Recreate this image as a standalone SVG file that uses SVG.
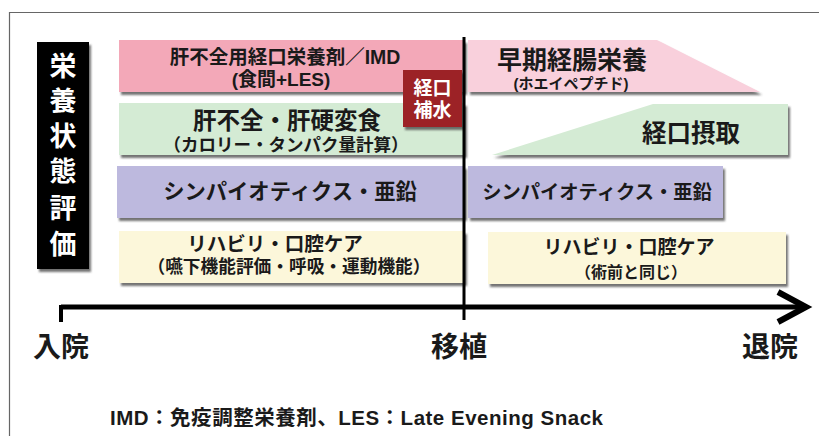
<svg xmlns="http://www.w3.org/2000/svg" width="819" height="436" viewBox="0 0 819 436">
<defs>
<filter id="sh" x="-5%" y="-10%" width="115%" height="130%">
<feDropShadow dx="2" dy="3" stdDeviation="1" flood-color="#444" flood-opacity="0.75"/>
</filter>
<style>
text{font-family:"Liberation Sans","Noto Sans CJK JP",sans-serif;font-weight:700;text-anchor:middle;dominant-baseline:central;fill:#1a1a1a}
.w{fill:#fff}
.pink{fill:#f3a8b8}
.lpink{fill:#f9d0dc}
.green{fill:#d4ebd4}
.purple{fill:#bdb9de}
.yellow{fill:#fcf7da}
.ax{stroke:#000;fill:none}
</style>
</defs>
<rect width="819" height="436" fill="#fff"/>
<path d="M9.5 436 V12.5 H819" fill="none" stroke="#666" stroke-width="1.2"/>

<g id="label">
<rect x="37" y="42" width="52" height="227" fill="#000" filter="url(#sh)"/>
<text class="w" x="63" y="67" font-size="27">栄</text>
<text class="w" x="63" y="102" font-size="27">養</text>
<text class="w" x="63" y="137" font-size="27">状</text>
<text class="w" x="63" y="172" font-size="27">態</text>
<text class="w" x="63" y="209" font-size="27">評</text>
<text class="w" x="63" y="245" font-size="27">価</text>
</g>

<g id="pre-oral">
<rect class="pink" x="119" y="40" width="346" height="52" filter="url(#sh)"/>
<text x="285" y="57" font-size="19.5">肝不全用経口栄養剤／IMD</text>
<text x="281" y="79.5" font-size="19">(食間+LES)</text>
</g>

<g id="pre-diet">
<rect class="green" x="119" y="103" width="346" height="52" filter="url(#sh)"/>
<text x="287" y="121" font-size="23.5">肝不全・肝硬変食</text>
<text x="286" y="145" font-size="17.5">（カロリー・タンパク量計算）</text>
</g>

<g id="pre-synbiotics">
<rect class="purple" x="117" y="166" width="348" height="52" filter="url(#sh)"/>
<text x="290" y="192" font-size="21.3">シンパイオティクス・亜鉛</text>
</g>

<g id="pre-rehab">
<rect class="yellow" x="119" y="231" width="346" height="52" filter="url(#sh)"/>
<text x="275" y="244" font-size="19.5">リハビリ・口腔ケア</text>
<text x="289" y="267" font-size="17.7">（嚥下機能評価・呼吸・運動機能）</text>
</g>

<g id="oral-rehydration">
<rect x="403" y="70" width="59" height="57" fill="#9c2027" filter="url(#sh)"/>
<text class="w" x="432.5" y="88" font-size="19">経口</text>
<text class="w" x="432.5" y="110" font-size="19">補水</text>
</g>

<g id="post-enteral">
<path class="lpink" d="M468 40 H657 L760 92 H468 Z" filter="url(#sh)"/>
<text x="572" y="60" font-size="25">早期経腸栄養</text>
<text x="571" y="83.5" font-size="15">(ホエイペプチド)</text>
</g>

<g id="post-oral">
<path class="green" d="M653 104 H788 V155 H492 Z" filter="url(#sh)"/>
<text x="691" y="133" font-size="24.5">経口摂取</text>
</g>

<g id="post-synbiotics">
<rect class="purple" x="468" y="166" width="255" height="52" filter="url(#sh)"/>
<text x="597" y="192" font-size="19.3">シンパイオティクス・亜鉛</text>
</g>

<g id="post-rehab">
<rect class="yellow" x="488" y="232" width="298" height="52" filter="url(#sh)"/>
<text x="629" y="247" font-size="19">リハビリ・口腔ケア</text>
<text x="631" y="272" font-size="16">（術前と同じ）</text>
</g>

<g id="connectors">
<line class="ax" x1="464" y1="37" x2="464" y2="320" stroke-width="3"/>
<line class="ax" x1="61" y1="307" x2="804" y2="307" stroke-width="5"/>
<line class="ax" x1="61" y1="305" x2="61" y2="322" stroke-width="4"/>
<polyline class="ax" points="778,292 806,307 778,322" stroke-width="6"/>
</g>

<g id="axis-labels">
<text x="61" y="347" font-size="28">入院</text>
<text x="459" y="347" font-size="28">移植</text>
<text x="770" y="347" font-size="28">退院</text>
</g>

<text x="110" y="417" font-size="20.5" style="text-anchor:start" textLength="493" lengthAdjust="spacing">IMD：免疫調整栄養剤、LES：Late Evening Snack</text>
</svg>
